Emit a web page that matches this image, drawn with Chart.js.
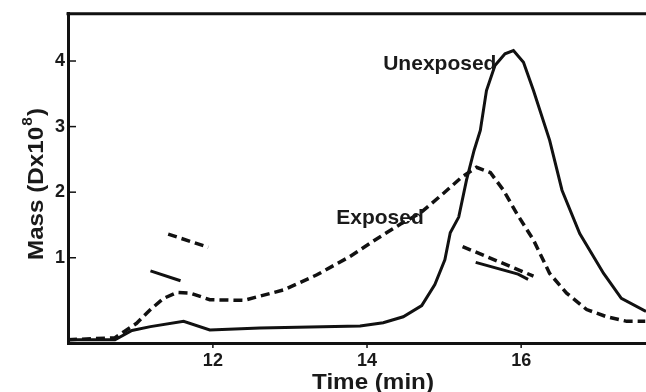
<!DOCTYPE html>
<html>
<head>
<meta charset="utf-8">
<script src="https://cdn.jsdelivr.net/npm/chart.js@4/dist/chart.umd.min.js"></script>
<style>
html,body{margin:0;padding:0;background:#fff;}
#wrap{width:646px;height:392px;position:relative;}
</style>
</head>
<body>
<div id="wrap"><canvas id="c" width="646" height="392"></canvas></div>
<script>
// ---- data ----
const timeUnexposed = [10.12,10.73,10.95,11.19,11.62,11.96,12.61,13.91,14.21,14.47,14.71,14.88,15.01,15.08,15.19,15.29,15.39,15.47,15.55,15.66,15.79,15.90,16.03,16.16,16.37,16.53,16.76,17.07,17.30,17.62];
const massUnexposed = [-0.25,-0.25,-0.11,-0.05,0.03,-0.10,-0.07,-0.04,0.01,0.10,0.27,0.59,0.97,1.38,1.62,2.18,2.64,2.94,3.55,3.93,4.11,4.16,3.98,3.55,2.79,2.03,1.37,0.76,0.38,0.18];
const timeExposed = [10.12,10.73,11.01,11.19,11.36,11.53,11.71,11.96,12.40,12.92,13.35,13.78,14.13,14.43,14.69,14.99,15.23,15.42,15.60,15.77,15.94,16.16,16.37,16.59,16.85,17.11,17.37,17.61];
const massExposed = [-0.25,-0.22,0.00,0.21,0.38,0.47,0.46,0.36,0.35,0.51,0.74,1.02,1.29,1.51,1.68,1.98,2.23,2.38,2.30,2.03,1.68,1.27,0.76,0.46,0.21,0.10,0.03,0.03];
// short mass-marker segments
const segUnexp1T = [11.19,11.58], segUnexp1M = [0.80,0.65];
const segExp1T = [11.42,11.94], segExp1M = [1.36,1.16];
const segExp2T = [15.24,16.16], segExp2M = [1.17,0.72];
const segUnexp2T = [15.41,15.96,16.09], segUnexp2M = [0.93,0.75,0.67];
const xTicks = [12,14,16];
const yTicks = [1,2,3,4];
const labelUnexposed = {t:14.21, m:3.86, text:"Unexposed"};
const labelExposed = {t:13.60, m:1.51, text:"Exposed"};

function pts(t,m){return t.map((x,i)=>({x:x,y:m[i]}));}
const solid = {borderColor:'#111',borderWidth:3,pointRadius:0,tension:0,fill:false};
const dashed = {borderColor:'#111',borderWidth:3.5,borderDash:[9,5],pointRadius:0,tension:0,fill:false};

const decor = {
  id:'decor',
  afterDraw(chart){
    const ctx = chart.ctx, a = chart.chartArea;
    const xs = chart.scales.x, ys = chart.scales.y;
    ctx.save();
    ctx.strokeStyle = '#111';
    ctx.lineWidth = 3;
    // top border
    ctx.beginPath(); ctx.moveTo(a.left-1.5, a.top); ctx.lineTo(a.right, a.top); ctx.stroke();
    // ticks
    ctx.lineWidth = 1.5;
    yTicks.forEach(v=>{const y=ys.getPixelForValue(v);ctx.beginPath();ctx.moveTo(a.left,y);ctx.lineTo(a.left+8,y);ctx.stroke();});
    xTicks.forEach(v=>{const x=xs.getPixelForValue(v);ctx.beginPath();ctx.moveTo(x,a.bottom);ctx.lineTo(x,a.bottom+5);ctx.stroke();});
    // curve labels
    ctx.fillStyle = '#1a1a1a';
    ctx.font = 'bold 21px "Liberation Sans", Arial, sans-serif';
    ctx.textAlign = 'left'; ctx.textBaseline = 'alphabetic';
    [labelUnexposed,labelExposed].forEach(l=>{
      ctx.fillText(l.text, xs.getPixelForValue(l.t), ys.getPixelForValue(l.m));
    });
    // x title
    ctx.font = 'bold 22px "Liberation Sans", Arial, sans-serif';
    ctx.save();
    ctx.translate(373, 389);
    ctx.scale(1.1,1);
    ctx.textAlign = 'center';
    ctx.fillText('Time (min)', 0, 0);
    ctx.restore();
    // y title with superscript
    ctx.save();
    ctx.translate(43, 184);
    ctx.rotate(-Math.PI/2);
    ctx.scale(1.1,1);
    const p1 = 'Mass (Dx10', p3 = ')';
    ctx.font = 'bold 22px "Liberation Sans", Arial, sans-serif';
    const w1 = ctx.measureText(p1).width;
    ctx.font = 'bold 14px "Liberation Sans", Arial, sans-serif';
    const w2 = ctx.measureText('8').width;
    ctx.font = 'bold 22px "Liberation Sans", Arial, sans-serif';
    const w3 = ctx.measureText(p3).width;
    let x0 = -(w1+w2+w3+2)/2;
    ctx.textAlign='left';
    ctx.fillText(p1, x0, 0);
    ctx.font = 'bold 14px "Liberation Sans", Arial, sans-serif';
    ctx.fillText('8', x0+w1+1, -11);
    ctx.font = 'bold 22px "Liberation Sans", Arial, sans-serif';
    ctx.fillText(p3, x0+w1+w2+2, 0);
    ctx.restore();
    ctx.restore();
  }
};

new Chart(document.getElementById('c'), {
  type:'line',
  data:{datasets:[
    Object.assign({label:'Unexposed',data:pts(timeUnexposed,massUnexposed)},solid),
    Object.assign({label:'Exposed',data:pts(timeExposed,massExposed)},dashed),
    Object.assign({label:'u1',data:pts(segUnexp1T,segUnexp1M)},solid),
    Object.assign({label:'e1',data:pts(segExp1T,segExp1M)},dashed),
    Object.assign({label:'e2',data:pts(segExp2T,segExp2M)},dashed),
    Object.assign({label:'u2',data:pts(segUnexp2T,segUnexp2M)},solid)
  ]},
  options:{
    responsive:false,animation:false,
    layout:{padding:{top:13,right:0,left:0,bottom:0}},
    plugins:{legend:{display:false},tooltip:{enabled:false}},
    scales:{
      x:{type:'linear',min:10.12,max:17.62,
        afterBuildTicks(s){s.ticks=xTicks.map(v=>({value:v}));},
        afterFit(s){s.height=49;},
        grid:{display:false,drawTicks:false},
        border:{display:true,color:'#111',width:3},
        ticks:{color:'#1a1a1a',padding:7,font:{family:'"Liberation Sans", Arial, sans-serif',size:18,weight:'bold'}}
      },
      y:{type:'linear',min:-0.3,max:4.72,
        afterBuildTicks(s){s.ticks=yTicks.map(v=>({value:v}));},
        afterFit(s){s.width=68;},
        grid:{display:false,drawTicks:false},
        border:{display:true,color:'#111',width:3},
        ticks:{color:'#1a1a1a',padding:3,font:{family:'"Liberation Sans", Arial, sans-serif',size:18,weight:'bold'}}
      }
    }
  },
  plugins:[decor]
});
</script>
</body>
</html>
